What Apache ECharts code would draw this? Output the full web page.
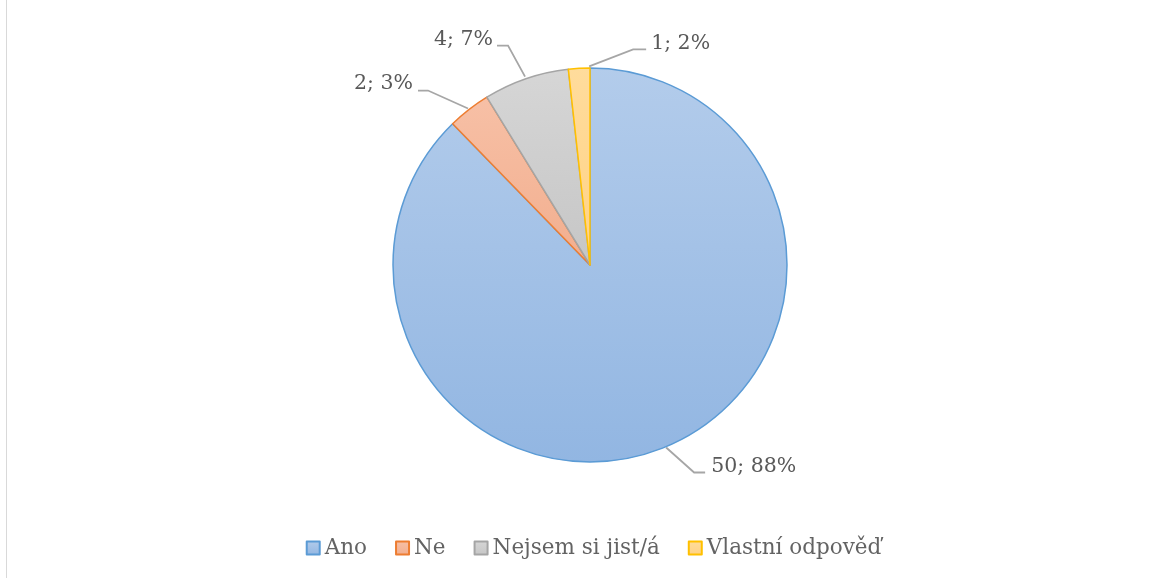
<!DOCTYPE html>
<html>
<head>
<meta charset="utf-8">
<script src="https://cdn.jsdelivr.net/npm/echarts@6/dist/echarts.min.js"></script>
<style>
  html, body { margin: 0; padding: 0; background: #fff; overflow: hidden; }
  #frame { position: absolute; left: 6px; top: 0; width: 1157px; height: 578px;
           border-left: 1px solid #d9d9d9; box-sizing: border-box; }
  #chart { position: absolute; left: 0; top: 0; width: 1187px; height: 578px; }
</style>
</head>
<body>
<div id="frame"></div>
<div id="chart"></div>
<script>
// odpovědi
const categories = ["Ano", "Ne", "Nejsem si jist/á", "Vlastní odpověď"];
const counts = [50, 2, 4, 1];

const fills = [
  ["#b3cceb", "#92b6e2"],
  ["#f7c0a6", "#f2ae8e"],
  ["#d6d6d6", "#c6c6c6"],
  ["#ffdc9c", "#ffd285"]
];
const borders = ["#5b9bd5", "#ed7d31", "#a5a5a5", "#ffc000"];

// leader lines like in excel (offsets from the slice edge point)
const leaders = [
  { start: [2, 0], elbow: [30, 25], end: [41, 25], text: [47, 19], align: "left" },
  { start: [-1, -1], elbow: [-41, -19], end: [-51, -19], text: [-56, -26], align: "right" },
  { start: [-1, -2], elbow: [-18, -33], end: [-29, -33], text: [-33, -39], align: "right" },
  { start: [10, -2], elbow: [54, -19], end: [67, -19], text: [72, -25], align: "left" }
];

const fontFam = "'DejaVu Serif', 'Liberation Serif', serif";

let myChart = echarts.init(document.getElementById("chart"));

myChart.setOption({
  animation: false,
  legend: {
    top: 532,
    left: "center",
    icon: "rect",
    itemWidth: 13,
    itemHeight: 13,
    itemGap: 28,
    textStyle: { fontFamily: fontFam, fontSize: 21.5, color: "#636363" },
    data: categories
  },
  series: [
    {
      type: "pie",
      center: [590, 265],
      radius: 197,
      startAngle: 90,
      clockwise: true,
      percentPrecision: 0,
      avoidLabelOverlap: false,
      label: {
        show: true,
        position: "outside",
        formatter: "{c}; {d}%",
        fontFamily: fontFam,
        fontSize: 20.5,
        color: "#595959"
      },
      labelLine: {
        show: true,
        length: 20,
        length2: 10,
        lineStyle: { color: "#a6a6a6", width: 1.8 }
      },
      labelLayout: function (params) {
        const pts = params.labelLinePoints;
        if (!pts) return {};
        const p = pts[0];
        const l = leaders[params.dataIndex];
        const at = (o) => [p[0] + o[0], p[1] + o[1]];
        const t = at(l.text);
        return {
          x: t[0],
          y: t[1],
          align: l.align,
          verticalAlign: "middle",
          labelLinePoints: [at(l.start), at(l.elbow), at(l.end)]
        };
      },
      emphasis: { disabled: true },
      data: categories.map((name, i) => ({
        name: name,
        value: counts[i],
        itemStyle: {
          color: new echarts.graphic.LinearGradient(0, 0, 0, 1, [
            { offset: 0, color: fills[i][0] },
            { offset: 1, color: fills[i][1] }
          ]),
          borderColor: borders[i],
          borderWidth: 1.5
        }
      }))
    }
  ]
});
</script>
</body>
</html>
